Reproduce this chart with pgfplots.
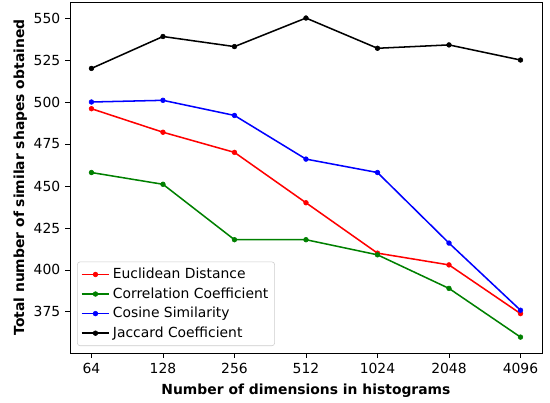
\documentclass[border=0pt]{standalone}
\usepackage{fontspec}
\setmainfont{DejaVu Sans}
\usepackage{pgfplots}
\pgfplotsset{compat=1.18}
\definecolor{mplgreen}{rgb}{0,0.5,0}
\begin{document}
\begin{tikzpicture}
\path (-50.4pt,-33.8pt) rectangle (345.6pt,254.2pt);
\begin{axis}[
  scale only axis,
  width=339.8pt, height=252.7pt,
  xmin=-0.3, xmax=6.3,
  ymin=350.5, ymax=559.5,
  xtick={0,1,2,3,4,5,6},
  xticklabels={64,128,256,512,1024,2048,4096},
  ytick={375,400,425,450,475,500,525,550},
  tick align=outside,
  tick pos=left,
  major tick length=3.5pt,
  every tick/.style={black, line width=0.6pt},
  axis line style={line width=0.6pt},
  /pgf/number format/assume math mode=true,
  tick label style={font=\fontsize{10}{12}\selectfont},
  xlabel={\textbf{Number of dimensions in histograms}},
  ylabel={\textbf{Total number of similar shapes obtained}},
  label style={font=\fontsize{10}{12}\selectfont},
  xlabel style={yshift=-1pt},
  ylabel style={yshift=-2pt},
  legend style={font=\fontsize{10}{12}\selectfont, draw=black!20, rounded corners=2pt, at={(0.015,0.02)}, anchor=south west, row sep=1pt, inner sep=2.5pt},
  legend cell align=left,
  legend image code/.code={
    \draw[mark repeat=2, mark phase=2] plot coordinates {(0pt,0pt) (10pt,0pt) (20pt,0pt)};
  },
  every axis plot/.append style={line width=1.1pt, mark=*, mark size=1.7pt},
]
\addplot[red, mark options={fill=red, line width=0.4pt}] coordinates {(0,496) (1,482) (2,470) (3,440) (4,410) (5,403) (6,374)};
\addlegendentry{Euclidean Distance}
\addplot[mplgreen, mark options={fill=mplgreen, line width=0.4pt}] coordinates {(0,458) (1,451) (2,418) (3,418) (4,409) (5,389) (6,360)};
\addlegendentry{Correlation Coefficient}
\addplot[blue, mark options={fill=blue, line width=0.4pt}] coordinates {(0,500) (1,501) (2,492) (3,466) (4,458) (5,416) (6,376)};
\addlegendentry{Cosine Similarity}
\addplot[black, mark options={fill=black, line width=0.4pt}] coordinates {(0,520) (1,539) (2,533) (3,550) (4,532) (5,534) (6,525)};
\addlegendentry{Jaccard Coefficient}
\end{axis}
\end{tikzpicture}
\end{document}
